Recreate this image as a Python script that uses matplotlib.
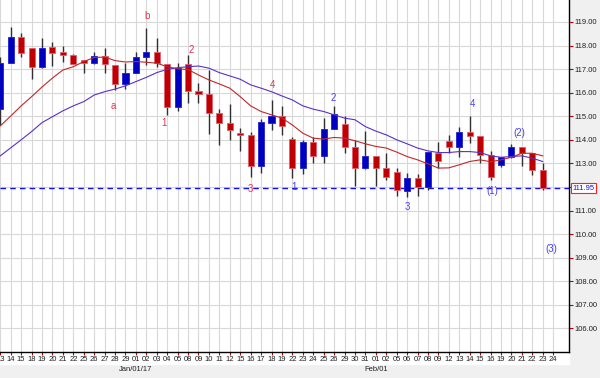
import matplotlib
matplotlib.use("Agg")
import matplotlib.pyplot as plt
import matplotlib.transforms as mtransforms
from matplotlib.patches import Rectangle

plt.rcParams['font.family'] = ['Liberation Sans', 'DejaVu Sans']

# trading days, Dec/13/16 .. Feb/24/17 (last slot has no candle yet)
days = ["13", "14", "15", "18", "19", "20", "21", "22", "25", "26", "27", "28", "29",
        "01", "02", "03", "04", "05", "08", "09", "10", "11", "12", "15", "16", "17",
        "18", "19", "22", "23", "24", "25", "26", "29", "30", "31", "01", "02", "05",
        "06", "07", "08", "09", "12", "13", "14", "15", "16", "19", "20", "21", "22",
        "23", "24"]
month_marks = [(13, "Jan/01/17"), (36, "Feb/01")]

opens = [115.30, 117.27, 118.35, 117.91, 117.10, 117.94, 117.73, 117.61, 117.39, 117.27,
         117.56, 117.18, 116.38, 116.84, 117.53, 117.73, 117.22, 115.41, 117.22, 116.09,
         115.93, 115.13, 114.72, 114.27, 114.20, 112.91, 114.73, 114.99, 114.03, 112.80,
         113.90, 113.31, 114.46, 114.68, 113.70, 112.80, 113.33, 112.80, 112.65, 111.84,
         112.37, 111.98, 113.46, 113.96, 113.71, 114.32, 114.17, 113.35, 112.94, 113.26,
         113.69, 113.43, 112.73]
highs = [117.51, 118.80, 118.54, 117.91, 118.33, 118.16, 117.98, 117.64, 117.39, 117.73,
         117.88, 117.18, 117.25, 117.74, 118.73, 118.31, 117.22, 117.27, 117.60, 116.40,
         116.96, 115.31, 115.51, 114.49, 114.35, 114.89, 115.69, 115.44, 114.14, 114.00,
         114.11, 114.92, 115.44, 114.99, 114.00, 114.39, 113.33, 113.46, 112.80, 112.59,
         112.56, 113.50, 113.90, 114.21, 114.54, 115.01, 114.17, 113.54, 113.26, 113.83,
         113.71, 113.43, 113.01]
lows = [114.63, 117.27, 117.50, 116.58, 117.04, 117.13, 117.32, 117.20, 116.85, 117.21,
        116.82, 116.12, 116.15, 116.82, 117.18, 117.10, 115.06, 115.23, 115.58, 115.58,
        114.25, 113.79, 113.98, 113.54, 112.44, 112.61, 114.42, 114.21, 112.37, 112.55,
        113.01, 113.01, 114.46, 113.43, 112.05, 112.76, 112.02, 112.30, 111.60, 111.57,
        111.62, 111.88, 112.80, 113.43, 113.26, 113.86, 113.01, 112.30, 112.84, 113.22,
        112.90, 112.52, 111.85]
closes = [117.27, 118.35, 117.67, 117.10, 117.91, 117.70, 117.61, 117.22, 117.27, 117.56,
          117.21, 116.38, 116.84, 117.53, 117.73, 117.25, 115.41, 117.04, 116.09, 115.93,
          115.15, 114.73, 114.41, 114.20, 112.91, 114.75, 114.99, 114.60, 112.80, 113.90,
          113.31, 114.46, 115.10, 113.71, 112.80, 113.33, 112.80, 112.44, 111.88, 112.37,
          111.98, 113.48, 113.12, 113.71, 114.32, 114.18, 113.36, 112.44, 113.26, 113.69,
          113.46, 112.73, 111.95]

ma_fast = [114.59, 115.01, 115.44, 115.83, 116.24, 116.62, 116.96, 117.10, 117.32, 117.49,
           117.51, 117.36, 117.30, 117.32, 117.29, 117.25, 117.10, 117.01, 116.98, 116.75,
           116.54, 116.37, 116.19, 115.83, 115.44, 115.20, 115.06, 114.92, 114.63, 114.28,
           114.07, 114.03, 114.10, 114.07, 113.96, 113.83, 113.72, 113.65, 113.48, 113.29,
           113.15, 112.98, 112.80, 112.81, 112.94, 113.08, 113.15, 113.07, 113.15, 113.26,
           113.43, 113.43, 113.32]
ma_slow = [113.32, 113.66, 114.00, 114.35, 114.73, 114.98, 115.23, 115.44, 115.62, 115.90,
           116.04, 116.15, 116.29, 116.47, 116.65, 116.85, 116.99, 117.06, 117.10, 117.13,
           117.04, 116.85, 116.71, 116.57, 116.33, 116.19, 116.04, 115.86, 115.69, 115.44,
           115.30, 115.20, 115.06, 114.92, 114.85, 114.56, 114.37, 114.21, 114.00, 113.83,
           113.65, 113.53, 113.46, 113.46, 113.50, 113.50, 113.46, 113.32, 113.26, 113.29,
           113.32, 113.22, 113.08]

last_price = 111.95
price_ticks = list(range(106, 120))

# wave counts: (text, candle slot, price)
waves_red = [("a", 10.8, 115.44), ("b", 14.07, 119.25), ("1", 15.7, 114.72),
             ("2", 18.3, 117.81), ("3", 24.0, 111.92), ("4", 26.1, 116.32)]
waves_blue = [("1", 28.2, 111.99), ("2", 31.9, 115.79), ("3", 39.05, 111.13),
              ("4", 45.25, 115.51), ("(1)", 47.2, 111.81), ("(2)", 49.8, 114.31),
              ("(3)", 52.8, 109.38)]

fig = plt.figure(figsize=(6, 3.78), dpi=100, facecolor="#f0f0f0")
# white strip behind the day labels
fig.patches.append(Rectangle((0, 1 - 364 / 378), 569 / 600, 12 / 378,
                             transform=fig.transFigure, color="white", zorder=-5))
ax = fig.add_axes([0, 1 - 352 / 378, 569 / 600, 352 / 378])
ax.set_facecolor("white")

x = list(range(len(closes)))
up = [c >= o for o, c in zip(opens, closes)]

ax.vlines(x, lows, highs, color="#303030", lw=1, zorder=3)
bottoms = [min(o, c) for o, c in zip(opens, closes)]
heights = [max(abs(c - o), 0.04) for o, c in zip(opens, closes)]
ax.bar(x, heights, bottom=bottoms, width=0.58,
       color=["#0000c0" if u else "#c00000" for u in up],
       edgecolor=["#2020d0" if u else "#e06070" for u in up],
       linewidth=0.6, zorder=4)

ax.plot(x, ma_fast, color="#c02828", lw=0.8, zorder=5)
ax.plot(x, ma_slow, color="#5a30c8", lw=0.8, zorder=5)

ax.axhline(last_price, color="#1010ff", lw=1, ls=(0, (4, 3)), zorder=2)

for t, xi, yi in waves_red:
    ax.text(xi, yi, t, color="#f03050", fontsize=7, ha="center", va="center", zorder=6)
for t, xi, yi in waves_blue:
    ax.text(xi, yi, t, color="#4a40f0", fontsize=7, ha="center", va="center", zorder=6)

ax.set_xlim(-0.03, 54.52)
ax.set_ylim(105.0, 119.93)

ax.set_xticks(range(len(days)))
ax.set_xticklabels(days)
ax.set_yticks(price_ticks)
# 112.00 sits under the last-price box
ax.set_yticklabels(["" if v == 112 else f"{v:.2f}" for v in price_ticks])
ax.yaxis.tick_right()
ax.tick_params(axis="x", length=2, width=0.8, color="#c00000", labelsize=5.5,
               pad=1.2, labelcolor="#202020")
ax.tick_params(axis="y", length=3, width=0.8, color="#c00000", labelsize=5.5,
               pad=1, labelcolor="#202020")
ax.grid(True, color="#d8d8d8", lw=0.8, zorder=0)
ax.set_axisbelow(True)

for s in ["top", "left"]:
    ax.spines[s].set_visible(False)
for s in ["right", "bottom"]:
    ax.spines[s].set_color("#000000")
    ax.spines[s].set_linewidth(1)

trans = mtransforms.blended_transform_factory(ax.transData, ax.transAxes)
for xi, lab in month_marks:
    ax.text(xi, -0.05, lab, transform=trans, fontsize=5.5, ha="center", va="center",
            color="#202020")

ax.text(1.006, last_price, f"{last_price:.2f}", fontsize=5.5, color="#1010ff",
        ha="left", va="center",
        transform=mtransforms.blended_transform_factory(ax.transAxes, ax.transData),
        bbox=dict(boxstyle="square,pad=0.15", fc="white", ec="#ff2020", lw=0.8))

fig.savefig("out.png", dpi=100, facecolor=fig.get_facecolor())
